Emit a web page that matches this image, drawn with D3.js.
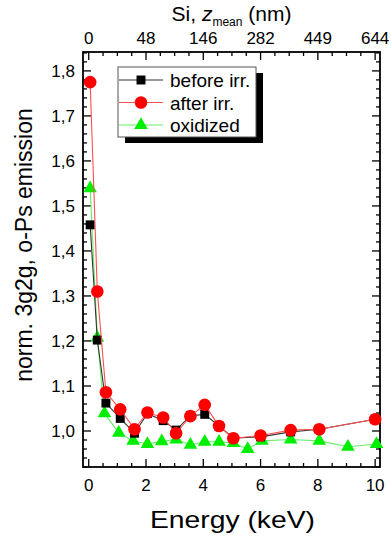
<!DOCTYPE html>
<html>
<head>
<meta charset="utf-8">
<script src="https://cdn.jsdelivr.net/npm/d3@7"></script>
<style>
  html, body { margin: 0; padding: 0; background: #fff; }
  svg { display: block; font-family: "Liberation Sans", Arial, sans-serif; }
</style>
</head>
<body>
<div id="chart"></div>
<script>
// energies (keV) and normalised 3g/2g values
const energyBefore = [0.05, 0.3, 0.6, 1.1, 1.6, 2.05, 2.6, 3.05, 3.55, 4.05, 4.55, 5.05, 6.0, 7.05, 8.05, 10.0];
const beforeIrr = [1.458, 1.202, 1.062, 1.028, 0.995, 1.039, 1.023, 1.002, 1.034, 1.037, 1.011, 0.984, 0.987, 0.998, 1.004, 1.026];

const energyAfter = [0.05, 0.3, 0.6, 1.1, 1.6, 2.05, 2.6, 3.05, 3.55, 4.05, 4.55, 5.05, 6.0, 7.05, 8.05, 10.0];
const afterIrr = [1.775, 1.31, 1.086, 1.048, 1.004, 1.041, 1.030, 0.995, 1.033, 1.058, 1.011, 0.984, 0.990, 1.002, 1.004, 1.026];

const energyOxid = [0.05, 0.3, 0.55, 1.05, 1.55, 2.05, 2.55, 3.05, 3.55, 4.05, 4.55, 5.05, 5.55, 6.05, 7.05, 8.05, 9.05, 10.05];
const oxidized = [1.539, 1.207, 1.039, 0.996, 0.978, 0.971, 0.977, 0.981, 0.969, 0.976, 0.976, 0.973, 0.960, 0.978, 0.981, 0.978, 0.965, 0.971];

// top axis: mean depth in Si (nm) at the energy ticks
const topTickEnergies = [0, 2, 4, 6, 8, 10];
const topTickLabels = ['0', '48', '146', '282', '449', '644'];

const yTicks = [1.0, 1.1, 1.2, 1.3, 1.4, 1.5, 1.6, 1.7, 1.8];

const W = 391, H = 539;
const svg = d3.select('#chart').append('svg').attr('width', W).attr('height', H);

const x = d3.scaleLinear().domain([-0.2, 10.17]).range([83, 380]);
const y = d3.scaleLinear().domain([0.92, 1.842]).range([467, 52]);

const [x0, x1] = x.range();
const [y0, y1] = y.range();

// ticks (inward)
const xMinor = d3.range(0, 10.01, 0.5);
const yMinor = d3.range(0.92, 1.841, 0.02).map(v => +v.toFixed(2));
const isMajX = v => Math.abs(v / 2 - Math.round(v / 2)) < 1e-6;
const isMajY = v => Math.abs(v * 10 - Math.round(v * 10)) < 1e-6;

const ticks = svg.append('g').attr('stroke', '#000').attr('stroke-width', 1.3);
xMinor.forEach(v => {
  const len = isMajX(v) ? 8 : 4;
  ticks.append('line').attr('x1', x(v)).attr('x2', x(v)).attr('y1', y0).attr('y2', y0 - len);
  ticks.append('line').attr('x1', x(v)).attr('x2', x(v)).attr('y1', y1).attr('y2', y1 + len);
});
yMinor.forEach(v => {
  const len = isMajY(v) ? 8 : 4;
  ticks.append('line').attr('y1', y(v)).attr('y2', y(v)).attr('x1', x0).attr('x2', x0 + len);
  ticks.append('line').attr('y1', y(v)).attr('y2', y(v)).attr('x1', x1).attr('x2', x1 - len);
});

// frame
svg.append('rect')
  .attr('x', x0).attr('y', y1)
  .attr('width', x1 - x0).attr('height', y0 - y1)
  .attr('fill', 'none').attr('stroke', '#000').attr('stroke-width', 1.8);

// tick labels
svg.append('g').selectAll('text').data(d3.range(0, 11, 2)).join('text')
  .attr('x', d => x(d)).attr('y', y0 + 24)
  .attr('text-anchor', 'middle').attr('font-size', 17)
  .text(d => d);

svg.append('g').selectAll('text').data(yTicks).join('text')
  .attr('x', x0 - 8).attr('y', d => y(d) + 6)
  .attr('text-anchor', 'end').attr('font-size', 17)
  .text(d => d.toFixed(1).replace('.', ','));

svg.append('g').selectAll('text').data(topTickEnergies).join('text')
  .attr('x', d => x(d)).attr('y', y1 - 8)
  .attr('text-anchor', 'middle').attr('font-size', 17)
  .text((d, i) => topTickLabels[i]);

// axis titles
svg.append('text')
  .attr('x', 150).attr('y', 528)
  .attr('font-size', 24)
  .attr('textLength', 165).attr('lengthAdjust', 'spacingAndGlyphs')
  .text('Energy (keV)');

const topTitle = svg.append('text')
  .attr('x', (x0 + x1) / 2).attr('y', 21)
  .attr('text-anchor', 'middle').attr('font-size', 21);
topTitle.append('tspan').text('Si, ');
topTitle.append('tspan').attr('font-style', 'italic').text('z');
topTitle.append('tspan').attr('font-size', 12).attr('dy', 5).text('mean');
topTitle.append('tspan').attr('dy', -5).text(' (nm)');

svg.append('text')
  .attr('transform', `translate(32,245) rotate(-90)`)
  .attr('text-anchor', 'middle').attr('font-size', 23)
  .text('norm. 3g2g, o-Ps emission');

// series
const series = [
  { name: 'oxidized', xs: energyOxid, ys: oxidized, color: '#00ee00', line: '#66ee66', shape: d3.symbolTriangle, size: 80 },
  { name: 'before irr.', xs: energyBefore, ys: beforeIrr, color: '#000', line: '#333', shape: d3.symbolSquare, size: 80 },
  { name: 'after irr.', xs: energyAfter, ys: afterIrr, color: '#ff0000', line: '#ff5050', shape: d3.symbolCircle, size: 125 }
];

const line = d3.line().x(d => x(d[0])).y(d => y(d[1]));
const plot = svg.append('g');
series.forEach(s => {
  const pts = s.xs.map((e, i) => [e, s.ys[i]]);
  plot.append('path').datum(pts)
    .attr('fill', 'none').attr('stroke', s.line).attr('stroke-width', 1.1)
    .attr('d', line);
  plot.selectAll(null).data(pts).join('path')
    .attr('transform', d => `translate(${x(d[0])},${y(d[1])})`)
    .attr('d', d3.symbol(s.shape, s.size))
    .attr('fill', s.color);
});

// legend
const lg = svg.append('g').attr('transform', 'translate(118,67)');
lg.append('rect').attr('x', 7).attr('y', 6).attr('width', 138).attr('height', 70).attr('fill', '#000');
lg.append('rect').attr('width', 138).attr('height', 70).attr('fill', '#fff').attr('stroke', '#555').attr('stroke-width', 1);
const legendOrder = [series[1], series[2], series[0]];
legendOrder.forEach((s, i) => {
  const yy = 13 + i * 22.5;
  lg.append('line').attr('x1', 1).attr('x2', 45).attr('y1', yy).attr('y2', yy)
    .attr('stroke', s.line).attr('stroke-width', 1.1);
  lg.append('path').attr('transform', `translate(23,${yy})`)
    .attr('d', d3.symbol(s.shape, s.size)).attr('fill', s.color);
  lg.append('text').attr('x', 52).attr('y', yy + 7).attr('font-size', 19).text(s.name);
});
</script>
</body>
</html>
